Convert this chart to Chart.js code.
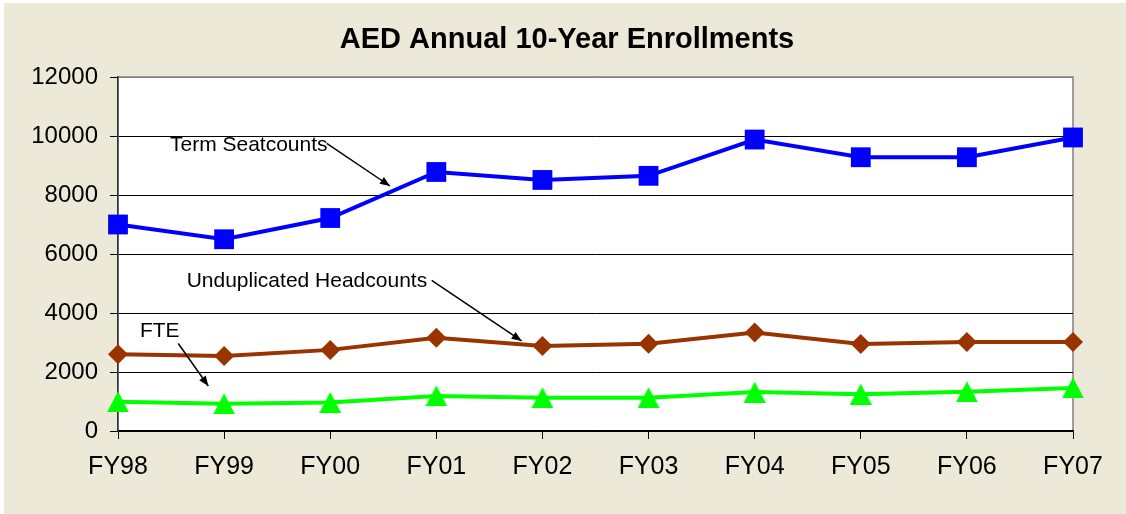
<!DOCTYPE html>
<html lang="en">
<head>
<meta charset="UTF-8" />
<title>AED Annual 10-Year Enrollments</title>
<script src="https://cdn.jsdelivr.net/npm/chart.js"></script>
<style>
  html, body { margin: 0; padding: 0; background: #fff; }
  #wrap { width: 1126px; height: 514px; position: relative; }
</style>
</head>
<body>
<div id="wrap"><canvas id="enrollChart"></canvas></div>
<script>
  // values
  const years = ["FY98", "FY99", "FY00", "FY01", "FY02", "FY03", "FY04", "FY05", "FY06", "FY07"];
  const seatcounts = [7000, 6500, 7220, 8780, 8510, 8650, 9880, 9280, 9280, 9950];
  const headcounts = [2600, 2540, 2750, 3160, 2880, 2960, 3340, 2950, 3020, 3020];
  const fte = [990, 920, 970, 1190, 1130, 1130, 1320, 1250, 1330, 1460];
  const yMax = 12000;
  const yStep = 2000;
  const chartTitle = "AED Annual 10-Year Enrollments";

  // callout labels, placed in category index / value units
  const notes = [
    { text: "Term Seatcounts", at: [0.49, 9695], from: [1.967, 9752], to: [2.563, 8305] },
    { text: "Unduplicated Headcounts", at: [0.647, 5061], from: [2.956, 5108], to: [3.804, 3051] },
    { text: "FTE", at: [0.207, 3389], from: [0.568, 2966], to: [0.851, 1525] },
  ];

  const FONT = "Arial, 'Liberation Sans', sans-serif";

  // green triangle marker centred on its box, like the Excel one
  function triangleMarker(w, h, color) {
    const c = document.createElement("canvas");
    c.width = w;
    c.height = h;
    const g = c.getContext("2d");
    g.fillStyle = color;
    g.beginPath();
    g.moveTo(w / 2, 0);
    g.lineTo(w, h);
    g.lineTo(0, h);
    g.closePath();
    g.fill();
    return c;
  }

  const backdrop = {
    id: "backdrop",
    beforeDraw(chart) {
      const { ctx, chartArea: a } = chart;
      ctx.save();
      ctx.fillStyle = "#ECE9D8";
      ctx.fillRect(4, 3, chart.width - 4, chart.height - 3);
      ctx.fillStyle = "#fff";
      ctx.fillRect(a.left, a.top, a.right - a.left, a.bottom - a.top);
      ctx.strokeStyle = "#808080";
      ctx.lineWidth = 1.5;
      ctx.strokeRect(a.left, a.top, a.right - a.left, a.bottom - a.top);
      ctx.restore();
    },
    afterDraw(chart) {
      const { ctx } = chart;
      const xs = chart.scales.x, ys = chart.scales.y;
      const px = (p) => [xs.getPixelForValue(p[0]), ys.getPixelForValue(p[1])];
      ctx.save();
      ctx.fillStyle = "#000";
      ctx.font = "bold 29px " + FONT;
      ctx.textAlign = "center";
      ctx.textBaseline = "middle";
      ctx.fillText(chartTitle, chart.width / 2 + 4, 40);

      ctx.font = "21px " + FONT;
      ctx.textAlign = "left";
      notes.forEach((n) => {
        const [tx, ty] = px(n.at);
        ctx.fillText(n.text, tx, ty);
        const [x1, y1] = px(n.from);
        const [x2, y2] = px(n.to);
        ctx.strokeStyle = "#000";
        ctx.lineWidth = 1.5;
        ctx.beginPath();
        ctx.moveTo(x1, y1);
        ctx.lineTo(x2, y2);
        ctx.stroke();
        const ang = Math.atan2(y2 - y1, x2 - x1);
        ctx.beginPath();
        ctx.moveTo(x2, y2);
        ctx.lineTo(x2 - 10 * Math.cos(ang) + 4 * Math.sin(ang), y2 - 10 * Math.sin(ang) - 4 * Math.cos(ang));
        ctx.lineTo(x2 - 10 * Math.cos(ang) - 4 * Math.sin(ang), y2 - 10 * Math.sin(ang) + 4 * Math.cos(ang));
        ctx.closePath();
        ctx.fill();
      });
      ctx.restore();
    },
  };

  const ctx = document.getElementById("enrollChart").getContext("2d");
  new Chart(ctx, {
    type: "line",
    data: {
      labels: years,
      datasets: [
        {
          label: "Term Seatcounts",
          data: seatcounts,
          borderColor: "#0000FF",
          backgroundColor: "#0000FF",
          borderWidth: 4,
          pointStyle: "rect",
          pointRadius: 14,
          pointBorderWidth: 0,
          tension: 0,
        },
        {
          label: "Unduplicated Headcounts",
          data: headcounts,
          borderColor: "#993300",
          backgroundColor: "#993300",
          borderWidth: 4,
          pointStyle: "rectRot",
          pointRadius: 10,
          pointBorderWidth: 0,
          tension: 0,
        },
        {
          label: "FTE",
          data: fte,
          borderColor: "#00FF00",
          backgroundColor: "#00FF00",
          borderWidth: 4,
          pointStyle: triangleMarker(22, 21, "#00FF00"),
          pointRadius: 11,
          tension: 0,
        },
      ],
    },
    options: {
      responsive: true,
      maintainAspectRatio: false,
      animation: false,
      layout: { autoPadding: false, padding: { top: 77, right: 53, left: 0, bottom: 0 } },
      plugins: {
        legend: { display: false },
        title: { display: false },
        tooltip: { enabled: false },
      },
      scales: {
        x: {
          offset: false,
          afterFit: (s) => { s.height = 83; },
          grid: { drawOnChartArea: false, drawTicks: true, tickLength: 8, color: "#000" },
          border: { color: "#000", width: 1.5 },
          ticks: { color: "#000", font: { family: FONT, size: 25 }, padding: 13, maxRotation: 0 },
        },
        y: {
          min: 0,
          max: yMax,
          afterFit: (s) => { s.width = 118; },
          grid: {
            color: (c) => (c.tick && c.tick.value === yMax ? "#808080" : "#000"),
            tickColor: "#000",
            tickLength: 8,
            lineWidth: 1,
          },
          border: { color: "#333", width: 1.5 },
          ticks: {
            stepSize: yStep,
            color: "#000",
            font: { family: FONT, size: 24 },
            padding: 12,
            callback: (v) => String(v),
          },
        },
      },
    },
    plugins: [backdrop],
  });
</script>
</body>
</html>
